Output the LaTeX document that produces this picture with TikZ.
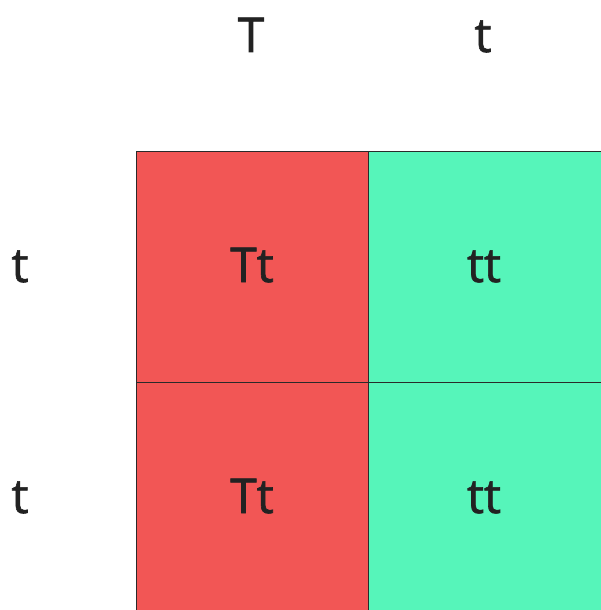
\documentclass[tikz,border=0pt]{standalone}
\usepackage{fontspec}
\setmainfont{Open Sans}
\newfontfamily\labfont{Open Sans}[FakeBold=1.3]
\definecolor{cellred}{HTML}{F25655}
\definecolor{cellgreen}{HTML}{56F5BA}
\definecolor{txt}{HTML}{222222}
\definecolor{gridline}{HTML}{2A2A2A}
\tikzset{
  cell/.style={draw=gridline, line width=1pt},
  lab/.style={text=txt, font=\labfont\fontsize{48}{56}\selectfont, anchor=base, inner sep=0pt}
}
\begin{document}
\begin{tikzpicture}[x=1pt,y=-1pt]
\useasboundingbox (0,0) rectangle (600,610);
\fill[white] (0,0) rectangle (600,610);
\path[cell, fill=cellred] (136.5,151) rectangle (368,615);
\path[cell, fill=cellgreen] (368,151) rectangle (605,615);
\draw[cell] (136.5,382) -- (605,382);
\node[lab] (hT) at (251,52) {T};
\node[lab] (ht) at (483,52) {t};
\node[lab] (r1) at (20,282) {t};
\node[lab] (r2) at (20,513) {t};
\node[lab] (c11) at (252,282) {Tt};
\node[lab] (c12) at (484,282) {tt};
\node[lab] (c21) at (252,513) {Tt};
\node[lab] (c22) at (484,513) {tt};
\end{tikzpicture}
\end{document}
